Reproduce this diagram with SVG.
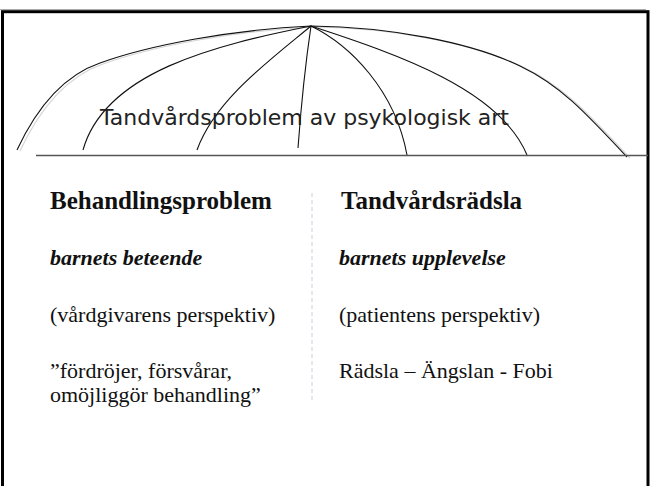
<svg xmlns="http://www.w3.org/2000/svg" width="655" height="486" viewBox="0 0 655 486">
<style>
.arc{fill:none;stroke:#111;stroke-width:1.1}
.shadow{fill:none;stroke:#d4d4d4;stroke-width:1.2}
.serif{font-family:"Liberation Serif","Times New Roman",serif;fill:#111}
.b{font-weight:bold;font-size:25px}
.bi{font-weight:bold;font-style:italic;font-size:22px}
.r{font-size:22px}
.title{font-family:"DejaVu Sans",Verdana,sans-serif;font-size:21px;fill:#222}
</style>
<rect width="655" height="486" fill="#fff"/>
<line x1="0" y1="9.5" x2="646" y2="9.5" stroke="#aaa" stroke-width="1"/>
<rect x="2.5" y="11.7" width="645.5" height="500" fill="none" stroke="#000" stroke-width="3"/>
<g id="connectors">
  <path class="shadow" transform="translate(3,1)" d="M17,150 C38,105 65,75 100,63 C150,45 230,30 311,26 C390,27 470,42 520,66 C560,85 585,112 627,157"/>
  <path class="arc" d="M17,150 C38,105 65,75 100,63 C150,45 230,30 311,26 C390,27 470,42 520,66 C560,85 585,112 627,157"/>
  <path class="arc" d="M311,26 C215,45 105,72 83,150"/>
  <path class="arc" d="M311,26 C270,60 215,100 197,150"/>
  <path class="arc" d="M311,26 Q303,80 298,148"/>
  <path class="arc" d="M311,26 C350,45 395,90 407,155"/>
  <path class="arc" d="M311,26 C400,55 500,90 527,155"/>
  <line x1="36" y1="155.5" x2="648" y2="155.5" stroke="#555" stroke-width="1.5"/>
  <line x1="312" y1="193" x2="312" y2="400" stroke="#ccccdd" stroke-width="1" stroke-dasharray="4,3"/>
</g>
<g id="title">
  <text class="title" x="100" y="125" textLength="409" lengthAdjust="spacingAndGlyphs">Tandvårdsproblem av psykologisk art</text>
</g>
<g id="left-column" class="serif">
  <text class="serif b" x="50" y="209">Behandlingsproblem</text>
  <text class="serif bi" x="50" y="265">barnets beteende</text>
  <text class="serif r" x="50" y="322">(vårdgivarens perspektiv)</text>
  <text class="serif r" x="50" y="378">”fördröjer, försvårar,</text>
  <text class="serif r" x="50" y="402">omöjliggör behandling”</text>
</g>
<g id="right-column" class="serif">
  <text class="serif b" x="341" y="209">Tandvårdsrädsla</text>
  <text class="serif bi" x="339" y="265">barnets upplevelse</text>
  <text class="serif r" x="339" y="322">(patientens perspektiv)</text>
  <text class="serif r" x="339" y="378">Rädsla – Ängslan - Fobi</text>
</g>
</svg>
